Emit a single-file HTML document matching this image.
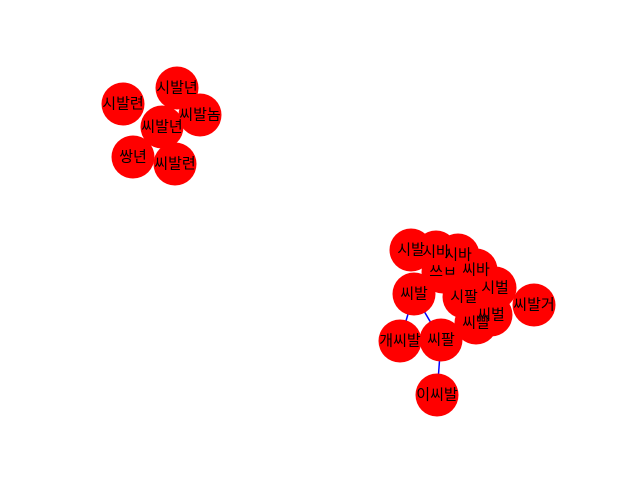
<!DOCTYPE html>
<html><head><meta charset="utf-8"><style>
body{margin:0;background:#fff;}
svg text{font-family:"Liberation Sans","Noto Sans CJK KR",sans-serif;font-size:15px;fill:#000;text-anchor:middle;dominant-baseline:central;}
</style></head><body>
<svg width="640" height="480" xmlns="http://www.w3.org/2000/svg">
<g id="edges"></g><g id="nodes"></g><g id="labels"></g>
</svg>
<script>
const labels=["시발련","시발년","씨발놈","씨발년","쌍년","씨발련","시발","시바","씨바","씨바2","쓰ㅂ","시벌","씨발거","씨벌","씨빨","시팔","씨발2","개씨발","씨팔","이씨발"];
const shown=["시발련","시발년","씨발놈","씨발년","쌍년","씨발련","시발","시바","시바","씨바","쓰ㅂ","시벌","씨발거","씨벌","씨빨","시팔","씨발","개씨발","씨팔","이씨발"];
const xs=[123,177,200,162,133,175,411,436,458,476,443,495,534,491,476,464,414,400,441,437];
const ys=[104,88,115,127,157,164,250,252,255,270,272,288,305,315,323,297,294,341,340,395];
const edges=[[16,17],[16,18],[18,19],[18,14],[18,17]];
const ns="http://www.w3.org/2000/svg";
const eg=document.getElementById('edges'),ng=document.getElementById('nodes'),lg=document.getElementById('labels');
edges.forEach(e=>{
const l=document.createElementNS(ns,'line');
l.setAttribute('x1',xs[e[0]]);l.setAttribute('y1',ys[e[0]]);l.setAttribute('x2',xs[e[1]]);l.setAttribute('y2',ys[e[1]]);
l.setAttribute('stroke','#0000ff');l.setAttribute('stroke-width','1.5');


eg.appendChild(l);});
labels.forEach((n,i)=>{
const c=document.createElementNS(ns,'circle');
c.setAttribute('cx',xs[i]);c.setAttribute('cy',ys[i]);c.setAttribute('r',21.5);c.setAttribute('fill','#ff0000');


ng.appendChild(c);
const t=document.createElementNS(ns,'text');
t.setAttribute('x',xs[i]);t.setAttribute('y',ys[i]);t.textContent=shown[i];


lg.appendChild(t);});
</script>
</body></html>
